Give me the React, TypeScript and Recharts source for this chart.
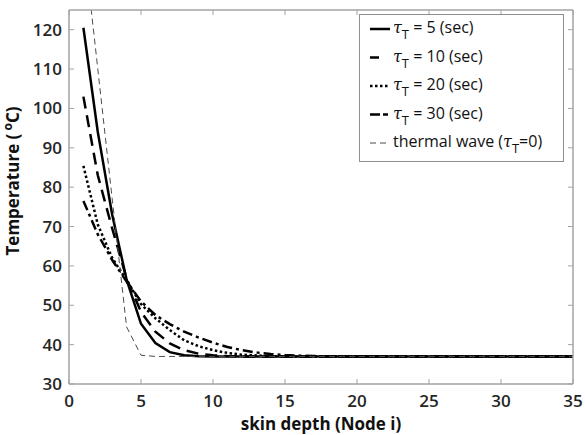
import { LineChart, Line, XAxis, YAxis, Legend } from "recharts";

// node index along the skin depth
const nodes = [1, 2, 3, 4, 5, 6, 7, 8, 9, 10, 11, 12, 13, 14, 15, 16, 17, 18, 19, 20, 21, 22, 23, 24, 25, 26, 27, 28, 29, 30, 31, 32, 33, 34, 35];

// temperatures (°C)
const tau5 = [120.5, 94, 73, 56.5, 45.3, 40.4, 38.1, 37.3, 37.05, 37, 37, 37, 37, 37, 37, 37, 37, 37, 37, 37, 37, 37, 37, 37, 37, 37, 37, 37, 37, 37, 37, 37, 37, 37, 37];
const tau10 = [103, 83, 69.5, 56.8, 48.3, 43.3, 40.3, 38.6, 37.7, 37.3, 37.1, 37, 37, 37, 37, 37, 37, 37, 37, 37, 37, 37, 37, 37, 37, 37, 37, 37, 37, 37, 37, 37, 37, 37, 37];
const tau20 = [85.4, 70.5, 62, 56.4, 50.3, 46.7, 43.7, 41.1, 39.6, 38.6, 37.9, 37.45, 37.25, 37.1, 37, 37, 37, 37, 37, 37, 37, 37, 37, 37, 37, 37, 37, 37, 37, 37, 37, 37, 37, 37, 37];
const tau30 = [76.5, 68, 61.5, 56, 51, 47.5, 45.2, 43.3, 41.8, 40.5, 39.4, 38.6, 38, 37.6, 37.35, 37.2, 37.1, 37.05, 37, 37, 37, 37, 37, 37, 37, 37, 37, 37, 37, 37, 37, 37, 37, 37, 37];
const thermal = [143, 110, 77, 44.5, 37.3, 37, 37, 37, 37, 37, 37, 37, 37, 37, 37, 37, 37, 37, 37, 37, 37, 37, 37, 37, 37, 37, 37, 37, 37, 37, 37, 37, 37, 37, 37];

const xTicks = [0, 5, 10, 15, 20, 25, 30, 35];
const yTicks = [30, 40, 50, 60, 70, 80, 90, 100, 110, 120];

const data = nodes.map((x, i) => ({
  x, t5: tau5[i], t10: tau10[i], t20: tau20[i], t30: tau30[i], tw: thermal[i],
}));

const series = [
  { key: "t5", tau: "5", stroke: "#000", width: 2.5, dash: undefined, legendDash: undefined },
  { key: "t10", tau: "10", stroke: "#000", width: 2.5, dash: "12 7", legendDash: "9 30" },
  { key: "t20", tau: "20", stroke: "#000", width: 2.5, dash: "2.5 2.5", legendDash: "2.5 2.5" },
  { key: "t30", tau: "30", stroke: "#000", width: 2.5, dash: "10 4 3 4", legendDash: "10 3 5 10" },
  { key: "tw", tau: "0", stroke: "#4d4d4d", width: 1, dash: "6 4", legendDash: "6 4" },
];

const gridGray = "#a3a3a3";
const font = "'Open Sans', 'DejaVu Sans', sans-serif";
const tickText = { fontFamily: font, fontSize: 17, fontWeight: 600, fill: "#262626" };

function BottomTick({ x, y, payload }: any) {
  return (
    <g>
      <line x1={x} y1={y} x2={x} y2={y - 5} stroke={gridGray} />
      <text x={x} y={y + 23} textAnchor="middle" {...tickText}>{payload.value}</text>
    </g>
  );
}
function LeftTick({ x, y, payload }: any) {
  return (
    <g>
      <line x1={x} y1={y} x2={x + 5} y2={y} stroke={gridGray} />
      <text x={x - 7} y={y + 6} textAnchor="end" {...tickText}>{payload.value}</text>
    </g>
  );
}
function TopTick({ x, y }: any) {
  return <line x1={x} y1={y} x2={x} y2={y + 5} stroke={gridGray} />;
}
function RightTick({ x, y }: any) {
  return <line x1={x} y1={y} x2={x - 5} y2={y} stroke={gridGray} />;
}

function YLabel({ viewBox }: any) {
  const cx = 19;
  const cy = viewBox.y + viewBox.height / 2 - 16;
  return (
    <text transform={`translate(${cx},${cy}) rotate(-90)`} textAnchor="middle" fontFamily={font} fontSize={17} fontWeight={700} fill="#111">
      Temperature (
      <tspan dy={-7} fontSize={12}> o</tspan>
      <tspan dy={7}>C)</tspan>
    </text>
  );
}
function XLabel({ viewBox }: any) {
  return (
    <text x={viewBox.x + viewBox.width / 2} y={430} textAnchor="middle" fontFamily={font} fontSize={17} fontWeight={700} fill="#111">
      skin depth (Node i)
    </text>
  );
}

function LegendBox() {
  return (
    <svg width={205} height={148} style={{ display: "block" }}>
      <rect x={0.5} y={0.5} width={204} height={147} fill="#fff" stroke="#8f8f8f" />
      {series.map((s, i) => {
        const cy = 15 + i * 28.5;
        return (
          <g key={s.key}>
            <line x1={11} x2={31} y1={cy} y2={cy} stroke={s.stroke} strokeWidth={s.width} strokeDasharray={s.legendDash} />
            <text x={34} y={cy + 4} fontFamily={font} fontSize={16} fill="#111">
              {s.key === "tw" ? "thermal wave (" : ""}
              <tspan fontFamily="'DejaVu Serif', serif" fontStyle="italic">τ</tspan>
              <tspan dy={6} fontSize={13}>T</tspan>
              <tspan dy={-6}>{s.key === "tw" ? "=0)" : ` = ${s.tau} (sec)`}</tspan>
            </text>
          </g>
        );
      })}
    </svg>
  );
}

export default function App() {
  return (
    <div style={{ position: "absolute", left: 0, top: 0, background: "#fff" }}>
      <LineChart width={585} height={435} data={data} margin={{ top: 9, right: 11, left: 0, bottom: 0 }}>
        <XAxis dataKey="x" type="number" domain={[0, 35]} ticks={xTicks} interval={0} allowDataOverflow
          height={51} tickSize={0} tickMargin={0} tickLine={false} tick={<BottomTick />}
          axisLine={{ stroke: gridGray, strokeWidth: 1.5 }} label={<XLabel />} />
        <XAxis xAxisId="top" orientation="top" dataKey="x" type="number" domain={[0, 35]} ticks={xTicks} interval={0} allowDataOverflow
          height={1} tickSize={0} tickMargin={0} tickLine={false} tick={<TopTick />}
          axisLine={{ stroke: gridGray, strokeWidth: 1.5 }} />
        <YAxis type="number" domain={[30, 125]} ticks={yTicks} interval={0} allowDataOverflow
          width={69} tickSize={0} tickMargin={0} tickLine={false} tick={<LeftTick />}
          axisLine={{ stroke: gridGray, strokeWidth: 1.5 }} label={<YLabel />} />
        <YAxis yAxisId="r" orientation="right" type="number" domain={[30, 125]} ticks={yTicks} interval={0} allowDataOverflow
          width={1} tickSize={0} tickMargin={0} tickLine={false} tick={<RightTick />}
          axisLine={{ stroke: gridGray, strokeWidth: 1.5 }} />
        <Legend layout="vertical" align="center" verticalAlign="middle"
          wrapperStyle={{ left: 359, top: 14, width: 205, height: 148 }} content={<LegendBox />} />
        {series.map((s) => (
          <Line key={s.key} dataKey={s.key} type="linear" stroke={s.stroke} strokeWidth={s.width}
            strokeDasharray={s.dash} dot={false} activeDot={false} isAnimationActive={false} />
        ))}
      </LineChart>
    </div>
  );
}
